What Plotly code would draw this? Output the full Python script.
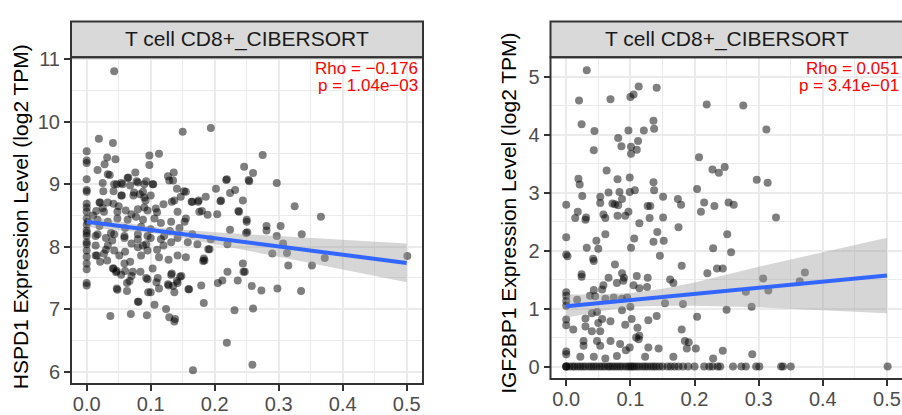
import plotly.graph_objects as go

# ---------------- data ----------------
strip_title = "T cell CD8+_CIBERSORT"
x_ticks = [0.0, 0.1, 0.2, 0.3, 0.4, 0.5]
x_ticktext = ["0.0", "0.1", "0.2", "0.3", "0.4", "0.5"]

# Left panel: HSPD1 vs T cell CD8+ (x, y)
hspd1_points = [
    (0.043,10.81),(0.15,9.84),(0.194,9.90),(0.019,9.73),(0.041,9.66),
    (0,9.53),(0,9.38),(0,9.34),(0.045,9.40),(0.032,9.43),(0.028,9.32),
    (0.098,9.46),(0.113,9.49),(0.098,9.31),(0.275,9.47),
    (0.017,9.23),(0.033,9.16),(0.036,9.15),(0.076,9.19),(0.064,9.10),(0.093,9.05),(0.103,9.0),
    (0.127,9.13),(0.136,9.19),(0.129,9.06),
    (0.246,9.28),(0.26,9.18),(0.254,9.05),(0.219,9.08),(0.297,9.02),(0.218,9.07),
    (0,9.08),(0,8.91),(0,8.88),(0,8.69),(0,8.56),(0,8.45),
    (0.025,9.02),(0.043,9.0),(0.054,9.02),(0.026,8.89),(0.042,8.89),
    (0.054,8.82),(0.068,8.98),(0.08,9.03),(0.088,8.88),(0.074,8.87),(0.09,8.79),(0.1,8.82),(0.092,8.74),
    (0.108,8.61),(0.095,8.58),(0.08,8.60),(0.061,8.58),(0.048,8.56),(0.033,8.71),(0.02,8.71),(0.015,8.57),(0.027,8.56),
    (0.137,8.74),(0.147,8.80),(0.155,8.88),(0.141,8.93),(0.165,8.72),(0.175,8.74),(0.186,8.80),
    (0.142,8.56),(0.155,8.45),(0.176,8.56),(0.189,8.51),
    (0.202,8.93),(0.21,8.74),(0.224,8.86),(0.232,8.91),(0.244,8.74),(0.253,9.07),(0.238,8.56),(0.224,8.27),(0.25,8.43),
    (0.325,8.65),(0.366,8.48),(0.204,8.52),(0.18,8.57),(0.237,8.57),
    (0.002,8.40),(0.017,8.43),(0.033,8.40),(0.048,8.45),(0.064,8.43),(0.077,8.48),(0.088,8.43),(0.106,8.45),(0.116,8.38),(0.132,8.40),(0.153,8.40),
    (0,8.22),(0.017,8.20),(0.038,8.22),(0.059,8.17),(0.08,8.20),(0.1,8.14),(0.121,8.17),(0.142,8.14),
    (0,8.17),(0,8.04),(0,7.94),(0,7.84),(0,7.73),(0,7.64),(0,7.42),(0,7.38),(0,8.07),(0,8.26),(0,8.35),(0,8.63),
    (0.014,8.02),(0.014,7.86),(0.027,7.89),(0.021,7.76),(0.016,7.86),(0.032,7.78),
    (0.033,8.02),(0.043,7.94),(0.051,7.86),
    (0.041,7.65),(0.046,7.59),(0.054,7.55),(0.042,7.65),(0.047,7.61),(0.06,7.61),(0.07,7.53),(0.063,7.42),
    (0.059,7.73),(0.068,7.76),(0.072,7.60),(0.067,7.45),
    (0.048,7.31),(0.063,7.29),(0.047,7.33),
    (0.08,7.99),(0.085,7.86),(0.095,7.94),(0.093,8.04),
    (0.084,7.60),(0.095,7.48),(0.103,7.65),(0.111,7.50),(0.1,7.27),(0.096,7.27),(0.093,7.50),
    (0.113,7.83),(0.128,7.79),(0.142,7.86),(0.155,7.83),
    (0.132,7.55),(0.127,7.40),(0.142,7.42),(0.137,7.27),(0.159,7.32),(0.148,7.53),(0.146,7.52),(0.141,7.45),(0.133,7.57),(0.135,7.37),(0.128,7.38),(0.113,7.33),(0.109,7.43),
    (0.08,7.12),(0.106,7.07),(0.069,6.92),(0.037,6.89),(0.094,6.90),
    (0.124,7.0),(0.129,6.87),(0.137,6.80),(0.138,6.84),(0.081,7.12),
    (0.179,7.38),(0.183,7.10),(0.205,7.42),(0.212,7.46),(0.22,7.60),(0.231,6.98),(0.236,7.46),(0.244,7.73),(0.245,7.60),(0.219,6.46),(0.166,6.02),(0.259,6.11),
    (0.173,8.04),(0.184,7.78),(0.192,7.96),(0.182,7.77),(0.183,7.81),(0.19,7.96),(0.16,7.32),
    (0.014,8.17),(0.03,8.14),(0.043,8.20),(0.059,8.14),(0.08,8.12),(0.088,8.02),(0.095,8.17),(0.116,8.12),(0.132,8.07),(0.158,8.07),(0.194,8.12),(0.22,8.04),
    (0.25,8.40),(0.249,8.22),(0.251,8.23),
    (0.281,8.33),(0.281,8.26),(0.303,8.33),(0.297,8.17),(0.336,8.20),(0.307,8.05),(0.29,7.89),(0.313,7.90),(0.315,7.70),(0.352,7.70),(0.372,7.82),(0.501,7.85),
    (0.247,7.60),(0.258,7.37),(0.273,7.30),(0.298,7.33),(0.335,7.29),(0.26,7.01),
    (0.209,8.73),(0.164,8.72),(0.174,8.72),(0.073,8.82),(0.055,8.82),(0.083,8.84),(0.021,8.71),(0.042,8.69),(0.133,8.72),
    (0.065,9.11),(0.047,9.0),(0.056,9.0),(0.078,9.05),(0.09,9.0),(0.104,9.0),(0.135,9.06),(0.152,8.89),
    (0.01,8.50),(0.025,8.62),(0.05,8.65),(0.07,8.52),(0.09,8.63),(0.11,8.55),(0.12,8.68),(0.02,8.33),(0.06,8.30),
    (0.085,8.32),(0.1,8.28),(0.13,8.25),(0.145,8.30),(0.165,8.20),(0.04,8.10),(0.07,8.05),(0.11,7.95),(0.12,8.02),(0.06,7.92),(0.03,7.95),
]

# Right panel: IGF2BP1 vs T cell CD8+ (x, y)
igf2bp1_points = [
    (0.032,5.11),(0.02,4.59),(0.069,4.61),(0.1,4.65),(0.105,4.69),(0.113,4.83),(0.141,4.81),(0.219,4.52),(0.276,4.50),
    (0.024,4.18),(0.044,4.06),(0.136,4.24),(0.137,4.10),(0.121,4.07),(0.097,4.07),(0.312,4.09),
    (0.081,3.94),(0.112,3.89),(0.086,3.80),(0.101,3.79),(0.11,3.74),(0.043,3.73),(0.101,3.67),
    (0.207,3.61),(0.228,3.40),(0.238,3.34),(0.247,3.44),
    (0.063,3.38),(0.019,3.24),(0.021,3.14),(0.08,3.23),(0.099,3.26),(0.136,3.18),(0.297,3.22),(0.314,3.17),
    (0.025,2.94),(0.053,2.93),(0.066,3.0),(0.083,3.01),(0.099,3.01),(0.107,3.04),(0.137,3.04),(0.151,2.93),(0.204,3.06),(0.087,2.89),
    (0,2.79),(0.053,2.82),(0.072,2.81),(0.076,2.80),(0.127,2.77),(0.131,2.77),(0.174,2.89),(0.179,2.79),(0.215,2.83),(0.231,2.77),(0.253,2.83),(0.261,2.79),
    (0.018,2.67),(0.014,2.56),(0.031,2.57),(0.081,2.78),(0.097,2.67),(0.092,2.60),(0.08,2.60),(0.058,2.62),(0.061,2.56),(0.151,2.57),(0.13,2.56),(0.21,2.67),(0.327,2.57),
    (0,2.23),(0,1.93),(0.002,1.90),(0.03,2.53),(0.032,2.05),(0.047,2.17),(0.05,2.03),(0.061,2.28),(0.042,1.86),(0.043,1.82),
    (0.101,2.05),(0.106,2.21),(0.114,2.47),(0.142,2.32),(0.136,2.15),(0.152,2.17),(0.146,1.91),(0.175,2.40),(0.18,1.74),(0.229,2.04),(0.251,2.28),(0.257,1.97),(0.244,1.69),
    (0.024,1.59),(0.024,1.55),(0.076,1.76),(0.066,1.53),(0.087,1.61),(0.09,1.53),(0.089,1.48),(0.11,1.56),(0.127,1.53),(0.126,1.37),(0.105,1.40),(0.079,1.44),(0.058,1.40),(0.056,1.33),(0.043,1.32),(0.045,1.21),(0.037,1.22),(0.017,1.15),
    (0,1.28),(0,1.22),(0,1.13),(0,1.05),
    (0.061,1.17),(0.074,1.19),(0.087,1.17),(0.1,1.03),(0.095,1.19),(0.114,1.35),(0.162,1.50),(0.167,1.44),(0.154,1.09),(0.182,1.08),(0.204,0.86),(0.22,1.61),(0.235,1.69),
    (0.307,1.52),(0.315,1.31),(0.28,1.29),(0.364,1.47),(0.372,1.62),(0.25,0.98),(0.289,1.03),
    (0,0.81),(0,0.71),(0.011,0.64),(0.03,0.83),(0.04,0.92),(0.03,0.69),(0.04,0.61),(0.05,0.75),(0.056,0.82),(0.048,0.94),(0.053,0.61),(0.069,0.78),(0.087,0.97),(0.092,0.72),(0.102,0.82),(0.111,0.67),(0.114,0.53),(0.109,0.50),(0.128,0.80),(0.141,0.87),(0.18,0.64),
    (0.027,0.44),(0.027,0.36),(0.048,0.44),(0.053,0.36),(0.069,0.44),(0.084,0.39),(0.093,0.28),(0.099,0.33),(0.113,0.47),(0.128,0.33),(0.144,0.31),(0.185,0.44),(0.191,0.42),(0.188,0.31),(0.202,0.31),
    (0,0.26),(0,0.21),(0.022,0.17),(0.043,0.17),(0.061,0.14),(0.079,0.18),(0.123,0.17),(0.167,0.17),(0.229,0.14),(0.244,0.27),(0.29,0.21),
]
igf2bp1_zero_x = [0,0,0,0.005,0.01,0.013,0.018,0.022,0.026,0.03,0.035,0.039,0.043,0.047,0.052,0.056,0.06,0.065,
                  0.068,0.072,0.076,0.08,0.084,0.088,0.093,0.097,0.1,0.103,0.106,0.11,0.114,0.119,0.123,0.127,
                  0.132,0.136,0.14,0.145,0.15,0.158,0.163,0.169,0.175,0.182,0.19,0.2,0.215,0.223,0.228,0.236,
                  0.24,0.26,0.273,0.28,0.296,0.301,0.335,0.338,0.35,0.501]

# Regression fits with 95% CI bands
fit_x = [0, 0.05, 0.1, 0.15, 0.2, 0.3, 0.4, 0.5]
hspd1_fit = [8.40, 8.334, 8.268, 8.202, 8.136, 8.004, 7.872, 7.74]
hspd1_lo = [8.31, 8.27, 8.22, 8.14, 8.04, 7.84, 7.64, 7.43]
hspd1_hi = [8.49, 8.40, 8.32, 8.27, 8.23, 8.17, 8.11, 8.05]
igf2bp1_fit = [1.04, 1.093, 1.146, 1.199, 1.252, 1.358, 1.464, 1.57]
igf2bp1_lo = [0.84, 0.95, 1.03, 1.05, 1.05, 1.02, 0.97, 0.92]
igf2bp1_hi = [1.24, 1.24, 1.27, 1.34, 1.45, 1.72, 1.97, 2.22]

hspd1_stats = ["Rho = \u22120.176", "p = 1.04e\u221203"]
igf2bp1_stats = ["Rho = 0.051", "p = 3.41e\u221201"]

hspd1_yticks = [6, 7, 8, 9, 10, 11]
igf2bp1_yticks = [0, 1, 2, 3, 4, 5]

# ---------------- figure ----------------
W, H = 902, 415
FONT = "Liberation Sans, Arial, Helvetica, sans-serif"
PT_COLOR = "rgba(0,0,0,0.5)"
LINE_COLOR = "#3366FF"
BAND_COLOR = "rgba(153,153,153,0.4)"

def px(x):
    """screen x pixel -> paper fraction"""
    return x / W

def py(y):
    """screen y pixel -> paper fraction"""
    return 1 - y / H

fig = go.Figure()

panels = [
    dict(l=71, r=423, t=50, b=388, xr=[-0.0245, 0.5255], yr=[5.802, 11.034]),
    dict(l=550.5, r=902, t=50, b=383, xr=[-0.0245, 0.5234], yr=[-0.2167, 5.333]),
]

def add_panel(idx, xs, ys, fy, lo, hi):
    xa = "x" if idx == 0 else "x2"
    ya = "y" if idx == 0 else "y2"
    fig.add_trace(go.Scatter(x=xs, y=ys, mode="markers", xaxis=xa, yaxis=ya,
                             marker=dict(size=8, color=PT_COLOR, line=dict(width=0)),
                             hoverinfo="skip", showlegend=False))
    fig.add_trace(go.Scatter(x=fit_x + fit_x[::-1], y=hi + lo[::-1], xaxis=xa, yaxis=ya,
                             mode="lines", fill="toself", fillcolor=BAND_COLOR,
                             line=dict(width=0), hoverinfo="skip", showlegend=False))
    fig.add_trace(go.Scatter(x=fit_x, y=fy, xaxis=xa, yaxis=ya, mode="lines",
                             line=dict(color=LINE_COLOR, width=4), hoverinfo="skip",
                             showlegend=False))

hx = [p[0] for p in hspd1_points]
hy = [p[1] for p in hspd1_points]
ix = [p[0] for p in igf2bp1_points] + igf2bp1_zero_x
iy = [p[1] for p in igf2bp1_points] + [0.0] * len(igf2bp1_zero_x)

add_panel(0, hx, hy, hspd1_fit, hspd1_lo, hspd1_hi)
add_panel(1, ix, iy, igf2bp1_fit, igf2bp1_lo, igf2bp1_hi)

def xaxis_cfg(p):
    return dict(domain=[px(p["l"]), min(1.0, px(p["r"]))], range=p["xr"],
                tickmode="array", tickvals=x_ticks, ticktext=x_ticktext,
                showgrid=True, gridcolor="#EBEBEB", gridwidth=2, zeroline=False,
                showline=False, ticks="outside", ticklen=6, tickwidth=2, tickcolor="#333333",
                ticklabelstandoff=-4,
                tickfont=dict(family=FONT, size=20, color="#4D4D4D"),
                minor=dict(tickvals=[0.05, 0.15, 0.25, 0.35, 0.45], showgrid=True,
                           gridcolor="#EBEBEB", gridwidth=1, ticks=""),
                fixedrange=True)

def yaxis_cfg(p, ticks, anchor):
    minors = [t + 0.5 for t in ticks[:-1]]
    return dict(domain=[py(p["b"]), py(p["t"])], range=p["yr"], anchor=anchor,
                tickmode="array", tickvals=ticks, ticktext=[str(t) for t in ticks],
                showgrid=True, gridcolor="#EBEBEB", gridwidth=2, zeroline=False,
                showline=False, ticks="outside", ticklen=6, tickwidth=2, tickcolor="#333333",
                tickfont=dict(family=FONT, size=20, color="#4D4D4D"),
                minor=dict(tickvals=minors, showgrid=True, gridcolor="#EBEBEB",
                           gridwidth=1, ticks=""),
                fixedrange=True)

fig.update_layout(
    width=W, height=H,
    margin=dict(l=0, r=0, t=0, b=0),
    paper_bgcolor="white", plot_bgcolor="white",
    xaxis=dict(xaxis_cfg(panels[0]), anchor="y"),
    yaxis=yaxis_cfg(panels[0], hspd1_yticks, "x"),
    xaxis2=dict(xaxis_cfg(panels[1]), anchor="y2"),
    yaxis2=yaxis_cfg(panels[1], igf2bp1_yticks, "x2"),
    showlegend=False,
)

shapes = []
annotations = []
titles = ["HSPD1 Expression Level (log2 TPM)", "IGF2BP1 Expression Level (log2 TPM)"]
title_pos = [(20.5, 215), (509, 212)]
stats = [hspd1_stats, igf2bp1_stats]
for i, p in enumerate(panels):
    right = p["r"] if i == 0 else 906
    shapes.append(dict(type="rect", xref="paper", yref="paper",
                       x0=px(p["l"]), x1=px(right), y0=py(p["t"]), y1=py(13),
                       fillcolor="#D9D9D9", line=dict(color="#333333", width=2), layer="above"))
    shapes.append(dict(type="rect", xref="paper", yref="paper",
                       x0=px(p["l"]), x1=px(right), y0=py(p["b"]), y1=py(p["t"]),
                       fillcolor="rgba(0,0,0,0)", line=dict(color="#333333", width=2), layer="above"))
    annotations.append(dict(xref="paper", yref="paper", x=px((p["l"] + (p["r"] if i == 0 else 903)) / 2),
                            y=py(31.5), text=strip_title, showarrow=False,
                            xanchor="center", yanchor="middle",
                            font=dict(family=FONT, size=21, color="#1A1A1A")))
    tx, ty = title_pos[i]
    annotations.append(dict(xref="paper", yref="paper", x=px(tx), y=py(ty), text=titles[i],
                            showarrow=False, textangle=-90, xanchor="center", yanchor="middle",
                            font=dict(family=FONT, size=21, color="#000000")))
    rx = 420 if i == 0 else 900.5
    for j, s in enumerate(stats[i]):
        annotations.append(dict(xref="paper", yref="paper", x=px(rx), y=py(62 + 17 * j),
                                text=s, showarrow=False, xanchor="right", yanchor="middle",
                                font=dict(family=FONT, size=17, color="#FF0000")))

fig.update_layout(shapes=shapes, annotations=annotations)
# pin the figure to the top-left corner of the page
fig.write_html(
    "out.html",
    config={"displayModeBar": False, "staticPlot": True},
    post_script=(
        "document.body.style.margin='0';document.body.style.overflow='hidden';"
        "var d=document.getElementById('{plot_id}');"
        "d.style.position='fixed';d.style.left='0px';d.style.top='0px';"
    ),
)
